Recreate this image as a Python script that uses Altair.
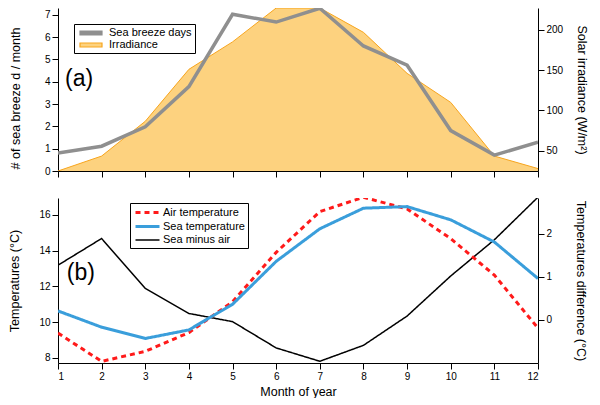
import altair as alt
import pandas as pd

# ---------------- data ----------------
months = list(range(1, 13))
sea_breeze_days = [0.81, 1.11, 1.98, 3.78, 7.02, 6.67, 7.29, 5.60, 4.74, 1.81, 0.71, 1.29]
irradiance = [25, 43.5, 86.6, 151, 185, 227, 227, 196.8, 146, 110, 43.5, 28]
air_temp = [9.39, 7.81, 8.37, 9.42, 11.14, 13.9, 16.18, 16.98, 16.33, 14.67, 12.63, 9.67]
sea_temp = [10.63, 9.72, 9.09, 9.57, 11.0, 13.4, 15.22, 16.37, 16.46, 15.72, 14.48, 12.44]
sea_minus_air = [1.27, 1.89, 0.73, 0.15, -0.04, -0.65, -0.96, -0.59, 0.09, 1.02, 1.86, 2.85]

top_series = ["Sea breeze days", "Irradiance"]
bottom_series = ["Air temperature", "Sea temperature", "Sea minus air"]
panel_labels = ["(a)", "(b)"]
label_month = [1.16, 1.2]
label_value = [4.11, 12.76]

breeze_ticks = [0, 1, 2, 3, 4, 5, 6, 7]
irr_ticks = [50, 100, 150, 200]
temp_ticks = [8, 10, 12, 14, 16]
diff_ticks = [0, 1, 2]

# ---------------- style ----------------
FONT = "Liberation Sans"
GRAY = "#8F8F8F"
ORANGE_FILL = "#FDD27F"
ORANGE_LINE = "#F7A51E"
RED = "#FF1A1A"
BLUE = "#3A9EDB"

df_breeze = pd.DataFrame({"month": months, "value": sea_breeze_days, "series": top_series[0]})
df_irr = pd.DataFrame({"month": months, "value": irradiance, "series": top_series[1]})
df_temp = pd.DataFrame({
    "month": months + months,
    "value": air_temp + sea_temp,
    "series": [bottom_series[0]] * 12 + [bottom_series[1]] * 12,
})
df_diff = pd.DataFrame({"month": months, "value": sea_minus_air, "series": bottom_series[2]})
df_lab_a = pd.DataFrame({"month": [label_month[0]], "value": [label_value[0]], "label": [panel_labels[0]]})
df_lab_b = pd.DataFrame({"month": [label_month[1]], "value": [label_value[1]], "label": [panel_labels[1]]})

xscale = alt.Scale(domain=[1, 12], nice=False, zero=False)
x_top = alt.X("month:Q", scale=xscale,
              axis=alt.Axis(values=months, labels=False, title=None, grid=False))
x_bot = alt.X("month:Q", scale=xscale,
              axis=alt.Axis(values=months, format="d", title="Month of year", grid=False,
                            titlePadding=4))

# ---------------- top panel ----------------
leg_top = alt.Legend(title=None, orient="top-left", offset=16, strokeColor="black",
                     fillColor="white", padding=3, labelFont=FONT, labelFontSize=11,
                     symbolType="M-2.2,-0.4H2.2V0.4H-2.2Z", symbolSize=100,
                     symbolOffset=8, symbolStrokeWidth=1.2, rowPadding=1, labelOffset=12)

irr_domain = [25, 227]
y_breeze_scale = alt.Scale(domain=[0, 7.3], nice=False, zero=False)
y_irr = alt.Y("value:Q", scale=alt.Scale(domain=irr_domain, nice=False, zero=False),
              axis=alt.Axis(orient="right", values=irr_ticks, title="Solar irradiance (W/m²)",
                            titlePadding=12, grid=False))
y_irr_edge = alt.Y("value:Q", scale=alt.Scale(domain=irr_domain, nice=False, zero=False), axis=None)
stroke_top = alt.Stroke("series:N", scale=alt.Scale(domain=top_series, range=[GRAY, ORANGE_LINE]),
                        legend=leg_top)
fill_top = alt.Fill("series:N", scale=alt.Scale(domain=top_series, range=[GRAY, ORANGE_FILL]),
                    legend=leg_top)

irr_area = alt.Chart(df_irr).mark_area(clip=True).encode(x=x_top, y=y_irr, fill=fill_top)
irr_edge = alt.Chart(df_irr).mark_line(strokeWidth=1, clip=True).encode(
    x=x_top, y=y_irr_edge, stroke=stroke_top)

breeze_line = alt.Chart(df_breeze).mark_line(strokeWidth=3.5, clip=True).encode(
    x=x_top,
    y=alt.Y("value:Q", scale=y_breeze_scale,
            axis=alt.Axis(orient="left", values=breeze_ticks, title="# of sea breeze d / month",
                          titlePadding=22, titleY=90, grid=False)),
    stroke=stroke_top,
)
lab_a = alt.Chart(df_lab_a).mark_text(align="left", baseline="middle", fontSize=23, font=FONT,
                                      color="black").encode(
    x=x_top, y=alt.Y("value:Q", scale=y_breeze_scale, axis=None), text="label:N")

top = alt.layer(irr_area, irr_edge, breeze_line, lab_a).resolve_scale(y="independent").properties(
    width=480, height=163)

# ---------------- bottom panel ----------------
leg_bot = alt.Legend(title=None, orient="none", legendX=72, legendY=5, strokeColor="black",
                     fillColor="white", padding=3, labelFont=FONT, labelFontSize=11,
                     symbolType="M-2.4,0H2.4", symbolSize=100, symbolOffset=8,
                     rowPadding=1, labelOffset=9)
stroke_bot = alt.Stroke("series:N", scale=alt.Scale(domain=bottom_series, range=[RED, BLUE, "black"]),
                        legend=leg_bot)
dash_bot = alt.StrokeDash("series:N", scale=alt.Scale(domain=bottom_series,
                                                      range=[[5, 4], [1, 0], [1, 0]]),
                          legend=leg_bot)
width_bot = alt.StrokeWidth("series:N", scale=alt.Scale(type="ordinal", domain=bottom_series,
                                                        range=[3, 3, 1.5]),
                            legend=leg_bot)

y_temp_scale = alt.Scale(domain=[7.72, 16.94], nice=False, zero=False)
temp_lines = alt.Chart(df_temp).mark_line(clip=True).encode(
    x=x_bot,
    y=alt.Y("value:Q", scale=y_temp_scale,
            axis=alt.Axis(orient="left", values=temp_ticks, title="Temperatures (°C)",
                          titlePadding=17, grid=False)),
    stroke=stroke_bot, strokeDash=dash_bot, strokeWidth=width_bot,
    order=alt.Order("series:N", sort="descending"),
)
diff_line = alt.Chart(df_diff).mark_line(clip=True).encode(
    x=x_bot,
    y=alt.Y("value:Q", scale=alt.Scale(domain=[-1, 2.83], nice=False, zero=False),
            axis=alt.Axis(orient="right", values=diff_ticks, title="Temperatures difference (°C)",
                          titlePadding=22, grid=False)),
    stroke=stroke_bot, strokeDash=dash_bot, strokeWidth=width_bot,
)
lab_b = alt.Chart(df_lab_b).mark_text(align="left", baseline="middle", fontSize=23, font=FONT,
                                      color="black").encode(
    x=x_bot, y=alt.Y("value:Q", scale=y_temp_scale, axis=None), text="label:N")

bottom = alt.layer(diff_line, temp_lines, lab_b).resolve_scale(y="independent").properties(
    width=480, height=165)

chart = alt.vconcat(top, bottom, spacing=20).resolve_scale(
    stroke="independent", fill="independent", strokeDash="independent",
    strokeWidth="independent", x="independent"
).resolve_legend(
    stroke="independent", fill="independent", strokeDash="independent", strokeWidth="independent"
).properties(
    padding={"left": 0, "top": 0, "right": 0, "bottom": 0}
).configure(
    font=FONT
).configure_axis(
    labelFont=FONT, labelFontSize=10, labelColor="black",
    titleFont=FONT, titleFontSize=12.5, titleFontWeight="normal", titleColor="black",
    domainColor="black", tickColor="black", tickSize=6, labelPadding=2,
).configure_view(stroke=None).configure_legend(labelColor="black")

chart.save("out.html", embed_options={"renderer": "svg", "actions": False})
